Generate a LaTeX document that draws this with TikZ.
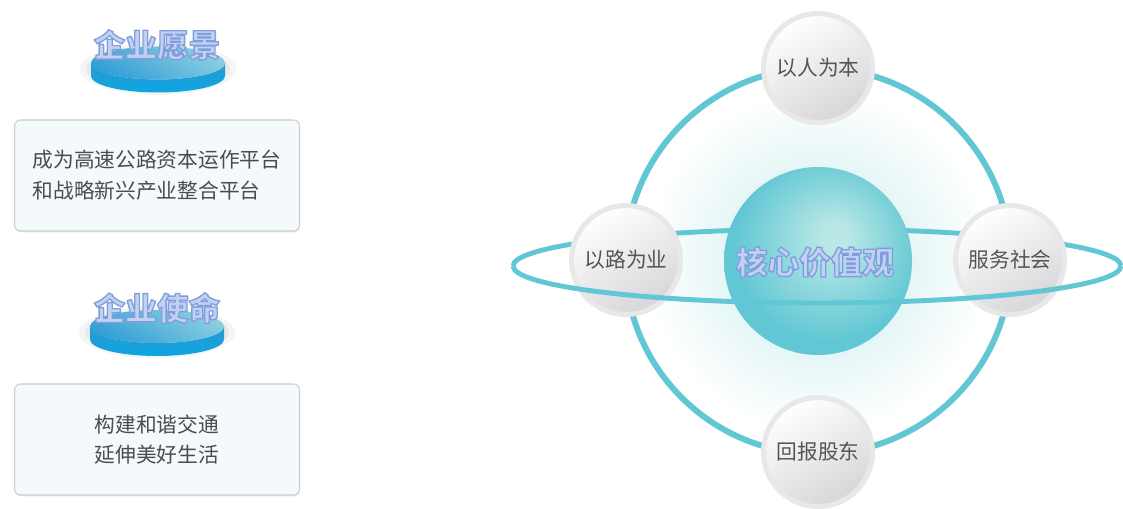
\documentclass[tikz,border=0pt]{standalone}
\usepackage{fontspec}
\newfontfamily\cjk{Noto Sans CJK SC}
\usepackage{tkz-euclide}
\usetikzlibrary{shadows}
\definecolor{RingClr}{rgb}{0.38,0.78,0.83}
\definecolor{SphereLight}{rgb}{0.73,0.91,0.90}
\definecolor{SphereDark}{rgb}{0.38,0.78,0.83}
\definecolor{GlowClr}{rgb}{0.90,0.965,0.965}
\definecolor{TitleClr}{rgb}{0.76,0.82,0.95}
\definecolor{DiscSideA}{rgb}{0.16,0.60,0.82}
\definecolor{DiscSideB}{rgb}{0.05,0.65,0.89}
\definecolor{DiscTopA}{rgb}{0.20,0.62,0.84}
\definecolor{DiscTopB}{rgb}{0.55,0.81,0.88}
\definecolor{BoxFill}{rgb}{0.955,0.976,0.988}
\definecolor{BoxEdge}{rgb}{0.80,0.80,0.80}
\definecolor{TextClr}{rgb}{0.30,0.30,0.30}
\definecolor{BallEdge}{rgb}{0.91,0.91,0.91}
\definecolor{BallGray}{rgb}{0.84,0.84,0.85}
\definecolor{BallText}{rgb}{0.33,0.33,0.33}

\pgfdeclareradialshading{sphereshade}{\pgfpoint{5bp}{7bp}}{color(0bp)=(SphereLight);color(3bp)=(SphereLight);color(25bp)=(SphereDark);color(50bp)=(SphereDark)}
\pgfdeclareradialshading{glowshade}{\pgfpointorigin}{color(0bp)=(GlowClr);color(11bp)=(GlowClr);color(20bp)=(white);color(50bp)=(white)}

% light letters with a blue outline (fill and stroke text mode)
\newcommand\OutlineText[1]{\special{pdf:code q 0.50 0.62 0.86 RG 0.75 w 1 j 2 Tr}#1\special{pdf:code Q}}

\tikzset{
  ring/.style={draw=RingClr,line width=3.4pt},
  orbit/.style={draw=RingClr,line width=2.8pt},
  ball/.style={circle,minimum size=2.18cm,draw=BallEdge,line width=0.1cm,
    top color=white,bottom color=BallGray,shading angle=30,text=BallText,
    font=\cjk\fontsize{11.8}{14}\selectfont,
    circular drop shadow={shadow xshift=0pt,shadow yshift=-0.6pt,shadow scale=1.04,opacity=0.15}},
  infobox/.style={rectangle,rounded corners=0.12cm,draw=BoxEdge,line width=0.6pt,
    fill=BoxFill,minimum width=5.7cm,minimum height=2.22cm,text=TextClr,
    font=\cjk\fontsize{11.8}{17.5}\selectfont,
    drop shadow={shadow xshift=0.3pt,shadow yshift=-0.8pt,opacity=0.2}},
  titletext/.style={text=TitleClr,font=\cjk\bfseries\fontsize{18}{20}\selectfont,inner sep=0pt},
}

\begin{document}
\begin{tikzpicture}[x=0.02cm,y=0.02cm]
\useasboundingbox (0,0) rectangle (1123,509);

\tkzDefPoints{158/446/V,157/464/V1,157/333.5/V2,157/182.5/M,157/201/M1,157/69.5/M2}
\tkzDefPoints{818/248/O,817/243/E,815/247/O1,818/441/T,1010/249/R,818/57/B,626/249/L}

% discs
\foreach \p in {V,M}{
  \fill[black,opacity=.04] ([yshift=-0.12cm]\p) ellipse [x radius=78,y radius=26];
  \fill[black,opacity=.05] ([yshift=-0.12cm]\p) ellipse [x radius=72,y radius=21];
  \shade[top color=DiscSideA,bottom color=DiscSideB] (\p) ++(-67,0) -- ++(0,-13)
    arc[start angle=180,end angle=360,x radius=67,y radius=16.5] -- ++(0,13)
    arc[start angle=0,end angle=-180,x radius=67,y radius=16.5] -- cycle;
  \shade[top color=DiscTopB,bottom color=DiscTopA,shading angle=-30] (\p) ellipse [x radius=67,y radius=16.5];
}
\node[titletext] (vtitle) at (V1) {\OutlineText{企业愿景}};
\node[titletext] (mtitle) at (M1) {\OutlineText{企业使命}};

\node[infobox,align=left] (vision) at (V2) {成为高速公路资本运作平台\\和战略新兴产业整合平台};
\node[infobox,align=center] (mission) at (M2) {构建和谐交通\\延伸美好生活};

% core
\shade[shading=glowshade] (O) circle (215);
\draw[ring] (O) circle (193);
\draw[orbit] (E) ++(304,0) arc[start angle=0,end angle=180,x radius=304,y radius=37];
\shade[shading=sphereshade] (O) circle (94);

\node[ball] (ren) at (T) {以人为本};
\node[ball] (lu) at (L) {以路为业};
\node[ball] (she) at (R) {服务社会};
\node[ball] (gu) at (B) {回报股东};

\draw[orbit] (E) ++(-304,0) arc[start angle=180,end angle=360,x radius=304,y radius=37];
\node[titletext] (core) at (O1) {\OutlineText{核心价值观}};

\end{tikzpicture}
\end{document}
